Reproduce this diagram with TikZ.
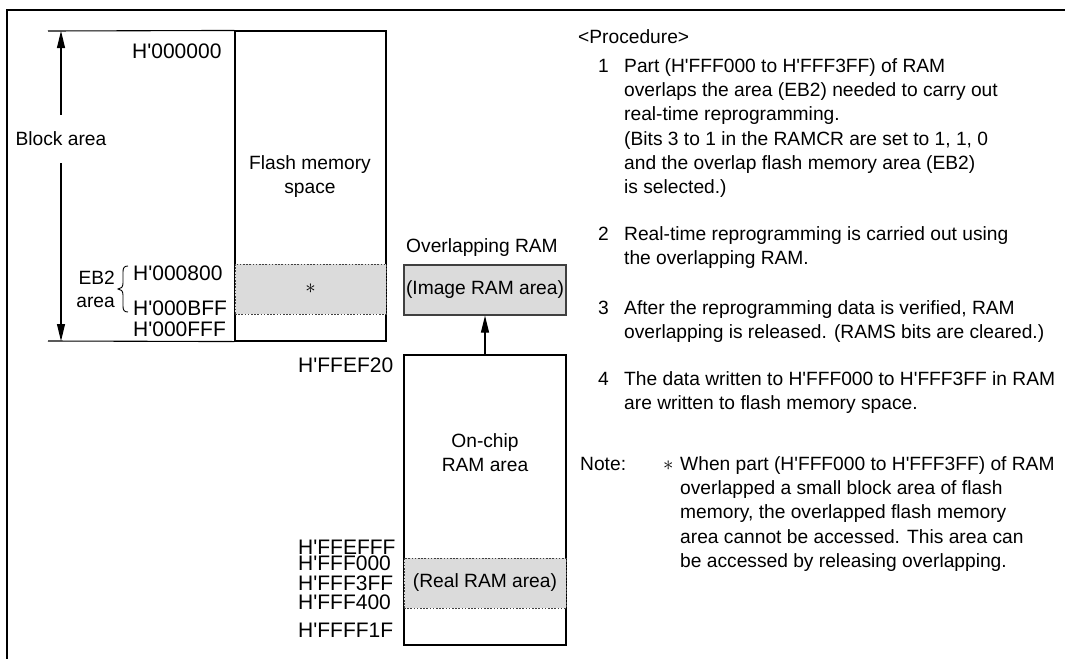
\documentclass[tikz,border=0pt]{standalone}
\usepackage{fontspec}
\setmainfont{Liberation Sans}[Ligatures=TeXOff]
\usetikzlibrary{arrows.meta}
\newcommand\fs{\fontsize{19.2}{24.3}\selectfont}
\newcommand\hx{\fontsize{21}{25}\selectfont}

\begin{document}
\begin{tikzpicture}[x=1pt,y=-1pt,
  lbl/.style={font=\fs,inner sep=0pt,anchor=base west},
  hex/.style={font=\hx,inner sep=0pt,anchor=base west},
  para/.style={font=\fs,inner sep=0pt,anchor=north west,align=left},
  mid/.style={font=\fs,inner sep=0pt,anchor=north,align=center},
  memline/.style={line width=1.1pt},
  mem/.style={draw,line width=1.1pt,inner sep=0pt},
  ovl/.style={draw=black!75,fill=black!14,line width=1pt,dash pattern=on 1.6pt off 1.6pt,
    inner sep=0pt,font=\fs},
  img/.style={draw=black!75,fill=black!14,line width=1.2pt,inner sep=0pt,font=\fs},
  arrow/.style={-{Triangle[length=17pt,width=8pt]},line width=1.1pt}
]
  \useasboundingbox (0,0) rectangle (1065,659);
  \draw[line width=2pt] (1065,10) -- (7,10) -- (7,659);

  % flash memory space
  \node[mem,minimum width=151pt,minimum height=310pt] (flash) at (310.5,186) {};
  \draw[memline] (48,31) -- (flash.north west);
  \draw[memline] (48,341) -- (flash.south west);
  \node[ovl,minimum width=151pt,minimum height=50pt] (eb2) at (310.5,289) {$\ast$};
  \node[mid] (flashtxt) at (310,152) {\strut Flash memory\\space};
  \node[hex] (a000000) at (132,58) {H'000000};
  \node[hex] (a000800) at (133,280) {H'000800};
  \node[hex] (a000BFF) at (133,315) {H'000BFF};
  \node[hex] (a000FFF) at (133,336.5) {H'000FFF};
  \node[lbl,anchor=base east] (eb2a) at (115,284) {EB2};
  \node[lbl,anchor=base east] (eb2b) at (115,307) {area};
  \draw[line width=0.9pt] (128,266) .. controls (124,266) and (123,268) .. (123,272)
    -- (123,283) .. controls (123,287) and (121,289) .. (118,289)
    .. controls (121,289) and (123,291) .. (123,295) -- (123,306)
    .. controls (123,310) and (124,312) .. (128,312);

  % block area arrow
  \node[font=\fs,inner xsep=0pt,inner ysep=17pt] (blk) at (61,139) {Block area};
  \coordinate (btop) at (61,31);
  \coordinate (bbot) at (61,341);
  \draw[arrow] (blk) -- (btop);
  \draw[arrow] (blk) -- (bbot);

  % RAM
  \node[font=\fs,inner sep=0pt,anchor=base] (ovltxt) at (482,252) {Overlapping RAM};
  \node[img,minimum width=162pt,minimum height=50pt] (image) at (485,290) {(Image RAM area)};
  \node[mem,minimum width=162pt,minimum height=290pt] (ram) at (485,500) {};
  \node[ovl,minimum width=162pt,minimum height=50pt] (real) at (485,583) {(Real RAM area)};
  \node[mid] (ramtxt) at (485,430) {\strut On-chip\\RAM area};
  \draw[arrow] (ram.north) -- (image.south);
  \node[hex] (aFFEF20) at (298,372) {H'FFEF20};
  \node[hex] (aFFEFFF) at (298,554) {H'FFEFFF};
  \node[hex] (aFFF000) at (298,570.5) {H'FFF000};
  \node[hex] (aFFF3FF) at (298,590.5) {H'FFF3FF};
  \node[hex] (aFFF400) at (298,609.5) {H'FFF400};
  \node[hex] (aFFFF1F) at (298,637.5) {H'FFFF1F};

  % procedure
  \node[lbl] (proc) at (578,43) {<Procedure>};
  \node[lbl] (n1) at (598,72) {1};
  \node[para] (p1) at (624,55) {\strut Part (H'FFF000 to H'FFF3FF) of RAM\\
    overlaps the area (EB2) needed to carry out\\
    real-time reprogramming.\\
    (Bits 3 to 1 in the RAMCR are set to 1, 1, 0\\
    and the overlap flash memory area (EB2)\\
    is selected.)};
  \node[lbl] (n2) at (598,240) {2};
  \node[para] (p2) at (624,223) {\strut Real-time reprogramming is carried out using\\
    the overlapping RAM.};
  \node[lbl] (n3) at (598,314) {3};
  \node[para] (p3) at (624,297) {\strut After the reprogramming data is verified, RAM\\
    overlapping is released. (RAMS bits are cleared.)};
  \node[lbl] (n4) at (598,385) {4};
  \node[para] (p4) at (624,368) {\strut The data written to H'FFF000 to H'FFF3FF in RAM\\
    are written to flash memory space.};
  \node[lbl] (note) at (580,470) {Note:};
  \node[lbl] (star) at (663,470) {$\ast$};
  \node[para] (pn) at (680,453) {\strut When part (H'FFF000 to H'FFF3FF) of RAM\\
    overlapped a small block area of flash\\
    memory, the overlapped flash memory\\
    area cannot be accessed. This area can\\
    be accessed by releasing overlapping.};
\end{tikzpicture}
\end{document}
